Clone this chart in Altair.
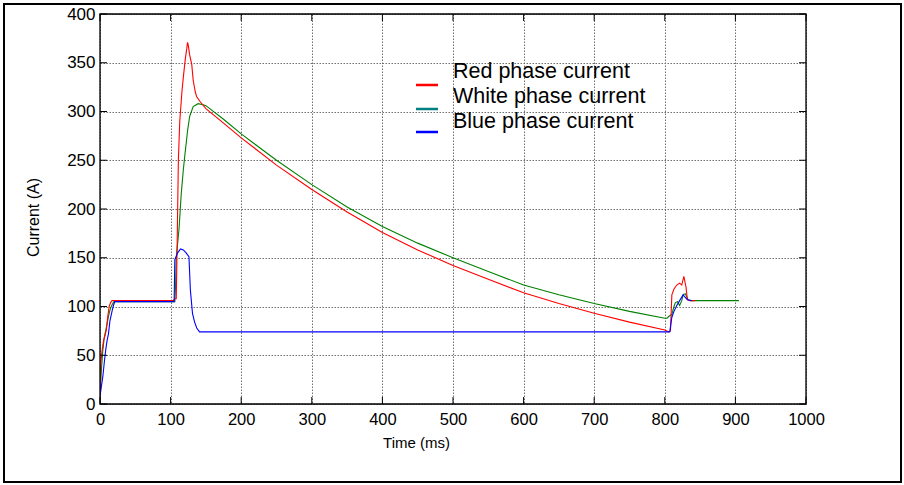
import altair as alt
import pandas as pd

# ---------------- data ----------------
red_t = [0, 0.5, 1.5, 3, 5, 7, 9, 11, 13, 15, 17, 60, 104, 106, 108,
         109, 110, 111, 113, 116, 118, 121, 123, 124, 125, 127, 130, 132, 135, 137, 142,
         150, 175, 200, 250, 300, 350, 400, 450, 500, 550, 600, 650, 700, 750, 800,
         805, 808, 810, 813, 817, 821, 824, 827, 830, 832, 836, 843]
red_i = [0, 30, 45, 55, 65, 70, 76, 90, 100, 104, 106, 106, 106, 108, 108,
         150, 200, 250, 290, 320, 335, 355, 365, 371, 368, 358, 348, 332, 320, 315, 310,
         303, 288, 273, 245, 220, 197, 176, 158, 142, 128, 114, 103, 93, 84, 76,
         74, 75, 112, 118, 122, 124, 122, 131, 120, 107, 106, 106]

green_t = [0, 2, 4, 6, 8, 10, 12, 14, 16, 18, 20, 60, 106,
           107, 108, 110, 112, 115, 118, 120, 124, 127, 132, 139, 146,
           150, 175, 200, 250, 300, 350, 400, 450, 500, 550, 600, 650, 700, 750, 800,
           803, 806, 810, 813, 815, 818, 821, 824, 826, 829, 833, 836, 870, 905]
green_i = [10, 35, 55, 68, 75, 82, 90, 96, 100, 103, 105, 105, 105,
           120, 150, 165, 180, 215, 240, 254, 280, 295, 305, 308, 307,
           306, 292, 277, 250, 225, 202, 182, 165, 150, 136, 122, 112, 103, 95, 88,
           88, 90, 92, 100, 104, 105, 101, 106, 112, 113, 107, 106, 106, 106]

blue_t = [0, 2, 4, 6, 8, 10, 12, 14, 17, 19, 21, 60, 105,
          106, 110, 114, 118, 122, 126, 128, 131, 134, 137, 141,
          300, 500, 700, 805, 807, 810, 813, 817, 821, 826, 828, 832, 838]
blue_i = [8, 18, 28, 42, 55, 65, 72, 85, 95, 101, 105, 105, 105,
          148, 155, 159, 158, 155, 151, 117, 93, 84, 78, 74,
          74, 74, 74, 74, 74, 89, 95, 101, 106, 112, 110, 107, 106]

series = ["Red phase current", "White phase current", "Blue phase current"]
line_colors = ["#FF0000", "#008000", "#0000FF"]
legend_colors = ["#FF0000", "#008080", "#0000FF"]

x_ticks = [0, 100, 200, 300, 400, 500, 600, 700, 800, 900, 1000]
y_ticks = [0, 50, 100, 150, 200, 250, 300, 350, 400]

# ---------------- tables ----------------
def frame(name, t, i):
    return pd.DataFrame({"t": t, "i": i, "s": name})

df_red = frame(series[0], red_t, red_i)
df_green = frame(series[1], green_t, green_i)
df_blue = frame(series[2], blue_t, blue_i)

W, H = 706, 390
FONT = "Liberation Sans"

xscale = alt.Scale(domain=[0, 1000], nice=False, zero=False)
yscale = alt.Scale(domain=[0, 400], nice=False)

grid_style = dict(grid=True, gridColor="#6e6e6e", gridDash=[1.5, 1.5], gridWidth=1,
                  gridOpacity=1, ticks=False, domain=False, labelFont=FONT,
                  titleFont=FONT, labelColor="black", titleColor="black", format="d",
                  labelFlush=False, labelOverlap=False)

xaxis = alt.Axis(values=x_ticks, title="Time (ms)", labelFontSize=16.5, labelPadding=7,
                 titleFontSize=15, titleFontWeight="normal", titleX=316, titleY=38,
                 titleBaseline="middle", titleAnchor="start", titleAlign="center",
                 **grid_style)
yaxis = alt.Axis(values=y_ticks, title="Current (A)", labelFontSize=17, labelPadding=5,
                 titleFontSize=16, titleFontWeight="normal", titleX=-67, titleY=203,
                 titleBaseline="middle", titleAlign="center", titleAngle=270,
                 **grid_style)

X = lambda: alt.X("t:Q", scale=xscale, axis=xaxis)
Y = lambda: alt.Y("i:Q", scale=yscale, axis=yaxis)

def line(df, color):
    return alt.Chart(df).mark_line(color=color, strokeWidth=1.1, clip=True).encode(x=X(), y=Y())

# inner ticks (MATLAB-style)
xt = pd.DataFrame({"t": x_ticks})
yt = pd.DataFrame({"i": y_ticks})
tick_style = dict(color="black", strokeWidth=1)
ticks_bottom = alt.Chart(xt).mark_rule(**tick_style).encode(
    x=X(), y=alt.value(H), y2=alt.value(H - 7))
ticks_top = alt.Chart(xt).mark_rule(**tick_style).encode(
    x=X(), y=alt.value(0), y2=alt.value(7))
ticks_left = alt.Chart(yt).mark_rule(**tick_style).encode(
    y=Y(), x=alt.value(0), x2=alt.value(7))
ticks_right = alt.Chart(yt).mark_rule(**tick_style).encode(
    y=Y(), x=alt.value(W), x2=alt.value(W - 7))

# plot box
box = alt.Chart(pd.DataFrame({"a": [0]})).mark_rect(
    fill=None, fillOpacity=0, stroke="black", strokeWidth=1.3, clip=False).encode(
    x=alt.value(0), x2=alt.value(W), y=alt.value(0), y2=alt.value(H))

# manual legend
leg = pd.DataFrame({"s": series, "c": legend_colors,
                    "ty": [58, 83, 108], "sy": [71, 95, 118]})
leg_sym = alt.Chart(leg).mark_rule(strokeWidth=2.5).encode(
    x=alt.value(316), x2=alt.value(338), y=alt.Y("sy:Q", scale=None),
    color=alt.Color("c:N", scale=None))
leg_txt = alt.Chart(leg).mark_text(align="left", baseline="middle", font=FONT,
                                   fontSize=21.5, color="black").encode(
    x=alt.value(353), y=alt.Y("ty:Q", scale=None), text="s:N")

# outer frame
frame_rect = alt.Chart(pd.DataFrame({"a": [0]})).mark_rect(
    fill=None, fillOpacity=0, stroke="black", strokeWidth=2, clip=False).encode(
    x=alt.value(-96), x2=alt.value(801), y=alt.value(-10), y2=alt.value(468))

chart = alt.layer(
    line(df_green, line_colors[1]),
    line(df_red, line_colors[0]),
    line(df_blue, line_colors[2]),
    ticks_bottom, ticks_top, ticks_left, ticks_right, box,
    leg_sym, leg_txt, frame_rect,
).properties(
    width=W, height=H,
    autosize=alt.AutoSizeParams(type="none"),
    padding={"left": 100, "top": 14, "right": 98, "bottom": 81},
).configure_view(
    stroke=None
).configure(background="white")

chart.save("out.html", embed_options={"renderer": "svg", "actions": False})
